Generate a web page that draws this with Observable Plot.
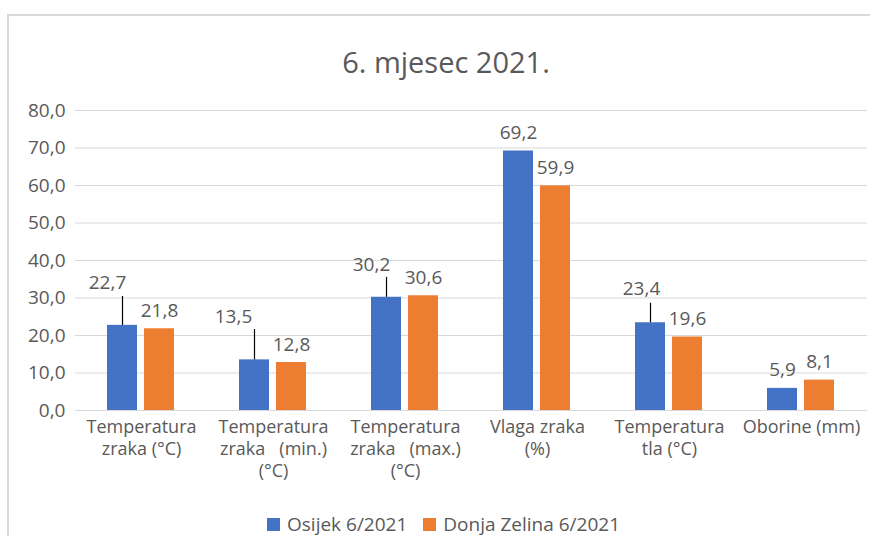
<!DOCTYPE html>
<html>
<head>
<meta charset="utf-8">
<script src="https://cdn.jsdelivr.net/npm/d3@7"></script>
<script src="https://cdn.jsdelivr.net/npm/@observablehq/plot@0.6"></script>
<style>
  html, body { margin: 0; padding: 0; background: #fff; }
  #wrap { position: relative; width: 870px; height: 536px; overflow: hidden; font-family: "Open Sans", sans-serif; color: #595959; }
  #frame { position: absolute; left: 7px; top: 14px; width: 900px; height: 600px; border: 2px solid #d9d9d9; box-sizing: border-box; }
  #title { position: absolute; left: 0; width: 892px; top: 42px; text-align: center; font-size: 29px; line-height: 40px; color: #595959; }
  #chart { position: absolute; left: 0; top: 0; }
  #legend { position: absolute; top: 513px; left: 267px; font-size: 19px; line-height: 22px; white-space: nowrap; display: flex; align-items: center; }
  .sw { display: inline-block; width: 13px; height: 13px; margin-right: 7px; }
  .item { display: inline-flex; align-items: center; margin-right: 16px; }
</style>
</head>
<body>
<div id="wrap">
  <div id="frame"></div>
  <div id="chart"></div>
  <div id="title">6. mjesec 2021.</div>
  <div id="legend"></div>
</div>
<script>
// ---- data ----
const categories = [
  "Temperatura\nzraka (°C)",
  "Temperatura\nzraka \u00A0 (min.)\n(°C)",
  "Temperatura\nzraka \u00A0 (max.)\n(°C)",
  "Vlaga zraka\n(%)",
  "Temperatura\ntla (°C)",
  "Oborine (mm)"
];
const seriesNames = ["Osijek 6/2021", "Donja Zelina 6/2021"];
const osijek = [22.7, 13.5, 30.2, 69.2, 23.4, 5.9];
const donjaZelina = [21.8, 12.8, 30.6, 59.9, 19.6, 8.1];
const yTicks = [0, 10, 20, 30, 40, 50, 60, 70, 80];
const colors = ["#4472C4", "#ED7D31"];
// moved Osijek labels (callouts with leader lines), in data units; null = label sits on the bar
const osijekLabelAt = [34.1, 24.9, 38.9, null, 32.3, null];
const osijekLeaderTop = [30.4, 21.6, 35.5, null, 28.6, null];
const osijekLabelShift = [-15, -21, -15, 0, -9, 0];

// ---- build table ----
const rows = [];
categories.forEach((c, i) => {
  rows.push({category: c, series: seriesNames[0], value: osijek[i], i});
  rows.push({category: c, series: seriesNames[1], value: donjaZelina[i], i});
});
const fmt = v => v.toFixed(1).replace(".", ",");
const plain = rows.filter(d => !(d.series === seriesNames[0] && osijekLabelAt[d.i] != null));
const callouts = rows.filter(d => d.series === seriesNames[0] && osijekLabelAt[d.i] != null)
  .map(d => ({...d, labelAt: osijekLabelAt[d.i], top: osijekLeaderTop[d.i], shift: osijekLabelShift[d.i]}));

const chart = Plot.plot({
  width: 870,
  height: 500,
  marginTop: 110,
  marginBottom: 90,
  marginLeft: 74,
  marginRight: 2,
  style: {fontFamily: "Open Sans, sans-serif", color: "#595959", background: "transparent", overflow: "visible"},
  fx: {domain: categories, padding: 0, label: null},
  x: {domain: seriesNames, paddingInner: 0.184, paddingOuter: 0.835, axis: null},
  y: {domain: [0, 80], label: null, axis: null},
  color: {domain: seriesNames, range: colors},
  marks: [
    Plot.gridY(yTicks, {stroke: "#d9d9d9", strokeOpacity: 1, strokeWidth: 1}),
    Plot.axisY(yTicks, {tickSize: 0, tickPadding: 10, tickFormat: fmt, fontSize: 19, fill: "#595959", label: null}),
    Plot.axisFx({anchor: "bottom", tickSize: 0, tickPadding: 7, fontSize: 18, lineHeight: 1.22, fill: "#595959", label: null}),
    Plot.barY(rows, {fx: "category", x: "series", y: "value", fill: "series"}),
    Plot.text(plain, {fx: "category", x: "series", y: "value", text: d => fmt(d.value), dy: -18, fontSize: 19, fill: "#595959"}),
    Plot.ruleX(callouts, {fx: "category", x: "series", y1: "value", y2: "top", stroke: "#000", strokeWidth: 1.2}),
    ...callouts.map(c => Plot.text([c], {fx: "category", x: "series", y: "labelAt", text: d => fmt(d.value), dx: c.shift, fontSize: 19, fill: "#595959"}))
  ]
});
document.getElementById("chart").appendChild(chart);

const legend = document.getElementById("legend");
seriesNames.forEach((s, i) => {
  const it = document.createElement("span");
  it.className = "item";
  const sw = document.createElement("span");
  sw.className = "sw";
  sw.style.background = colors[i];
  it.appendChild(sw);
  it.appendChild(document.createTextNode(s));
  legend.appendChild(it);
});
</script>
</body>
</html>
